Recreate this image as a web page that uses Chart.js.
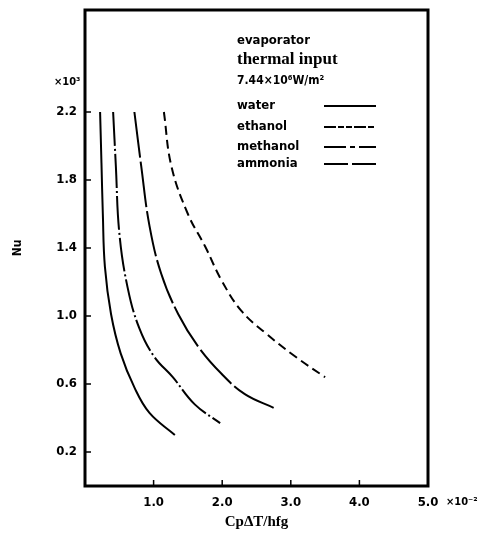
<!DOCTYPE html>
<html>
<head>
<meta charset="utf-8">
<script src="https://cdn.jsdelivr.net/npm/chart.js@4.4.1/dist/chart.umd.min.js"></script>
<style>
  html, body { margin: 0; padding: 0; background: #fff; }
  canvas { display: block; }
</style>
</head>
<body>
<canvas id="nuChart" width="480" height="543"></canvas>
<script>
// Cp dT / hfg (x10^-2) vs Nu (x10^3)
const waterX = [0.22, 0.24, 0.26, 0.29, 0.38, 0.52, 0.72, 0.94, 1.31];
const waterY = [2.20, 1.90, 1.60, 1.29, 1.01, 0.78, 0.58, 0.43, 0.30];

const ethanolX = [1.15, 1.26, 1.50, 1.75, 1.99, 2.28, 2.63, 3.07, 3.50];
const ethanolY = [2.20, 1.88, 1.60, 1.41, 1.21, 1.03, 0.90, 0.76, 0.64];

const methanolX = [0.41, 0.45, 0.50, 0.62, 0.79, 1.01, 1.28, 1.60, 1.97];
const methanolY = [2.20, 1.88, 1.49, 1.17, 0.93, 0.76, 0.64, 0.48, 0.37];

const ammoniaX = [0.72, 0.82, 0.94, 1.11, 1.36, 1.65, 1.99, 2.33, 2.75];
const ammoniaY = [2.20, 1.88, 1.53, 1.25, 1.01, 0.82, 0.66, 0.54, 0.46];

const xTicks = [1, 2, 3, 4, 5];
const yTicks = [0.2, 0.6, 1.0, 1.4, 1.8, 2.2];

const seriesNames = ['water', 'ethanol', 'methanol', 'ammonia'];
const seriesDash = [[], [9, 5], [34, 3, 2, 3], [46, 4]];
const keyDash = [[], [12, 2, 6, 2, 6, 2], [22, 4, 5, 4], [24, 4]];

function toPoints(xs, ys) {
  return xs.map((v, i) => ({ x: v, y: ys[i] }));
}

const seriesData = [
  toPoints(waterX, waterY),
  toPoints(ethanolX, ethanolY),
  toPoints(methanolX, methanolY),
  toPoints(ammoniaX, ammoniaY)
];

const sansFont = '"DejaVu Sans Condensed", "DejaVu Sans", sans-serif';
const serifFont = '"Liberation Serif", "DejaVu Serif", serif';

// frame, inward ticks, multipliers and the key block
const framePlugin = {
  id: 'frame',
  afterDatasetsDraw(chart) {
    const { ctx, chartArea: a, scales: { x, y } } = chart;
    ctx.save();
    ctx.strokeStyle = '#000';
    ctx.fillStyle = '#000';
    ctx.setLineDash([]);

    ctx.lineWidth = 3;
    ctx.strokeRect(a.left, a.top, a.right - a.left, a.bottom - a.top);

    ctx.lineWidth = 1.5;
    ctx.beginPath();
    yTicks.forEach(v => {
      const py = y.getPixelForValue(v);
      ctx.moveTo(a.left, py);
      ctx.lineTo(a.left + 6, py);
    });
    xTicks.slice(0, -1).forEach(v => {
      const px = x.getPixelForValue(v);
      ctx.moveTo(px, a.bottom);
      ctx.lineTo(px, a.bottom - 6);
    });
    ctx.stroke();

    ctx.textBaseline = 'middle';
    ctx.textAlign = 'left';
    ctx.font = 'bold 11px ' + sansFont;
    ctx.fillText('×10³', 54, 82);
    ctx.fillText('×10⁻²', 446, 502);

    // key
    const kx = 237;
    ctx.font = 'bold 13px ' + sansFont;
    ctx.fillText('evaporator', kx, 41);
    ctx.font = 'bold 17px ' + serifFont;
    ctx.fillText('thermal input', kx, 60);
    ctx.font = 'bold 12px ' + sansFont;
    ctx.fillText('7.44×10⁶W/m²', kx, 81);

    const rows = [106, 127, 147, 164];
    ctx.lineWidth = 1.8;
    seriesNames.forEach((name, i) => {
      ctx.font = 'bold 13px ' + sansFont;
      ctx.setLineDash([]);
      ctx.fillText(name, kx, rows[i]);
      ctx.setLineDash(keyDash[i]);
      ctx.beginPath();
      ctx.moveTo(324, rows[i]);
      ctx.lineTo(376, rows[i]);
      ctx.stroke();
    });
    ctx.restore();
  }
};

new Chart(document.getElementById('nuChart'), {
  type: 'scatter',
  data: {
    datasets: seriesNames.map((name, i) => ({
      label: name,
      data: seriesData[i],
      showLine: true,
      borderColor: '#000',
      borderWidth: 2,
      borderDash: seriesDash[i],
      pointRadius: 0,
      tension: 0.4,
      fill: false
    }))
  },
  options: {
    responsive: false,
    animation: false,
    layout: { padding: { top: 10, right: 52, bottom: 0, left: 0 } },
    plugins: {
      legend: { display: false },
      tooltip: { enabled: false }
    },
    scales: {
      x: {
        type: 'linear',
        min: 0,
        max: 5,
        afterBuildTicks: s => { s.ticks = xTicks.map(v => ({ value: v })); },
        afterFit: s => { s.height = 57; s.paddingLeft = 0; s.paddingRight = 0; },
        grid: { display: false, drawTicks: false },
        border: { display: false },
        ticks: {
          padding: 9,
          color: '#000',
          font: { family: sansFont, size: 13, weight: 'bold' },
          callback: v => v.toFixed(1)
        },
        title: {
          display: true,
          text: 'CpΔT/hfg',
          color: '#000',
          padding: { top: 0, bottom: 12 },
          font: { family: serifFont, size: 15, weight: 'bold' }
        }
      },
      y: {
        type: 'linear',
        min: 0,
        max: 2.8,
        afterBuildTicks: s => { s.ticks = yTicks.map(v => ({ value: v })); },
        afterFit: s => { s.width = 85; s.paddingTop = 0; s.paddingBottom = 0; },
        grid: { display: false, drawTicks: false },
        border: { display: false },
        ticks: {
          padding: 8,
          color: '#000',
          font: { family: sansFont, size: 13, weight: 'bold' },
          callback: v => v.toFixed(1)
        },
        title: {
          display: true,
          text: 'Nu',
          color: '#000',
          padding: { top: 11, bottom: 0 },
          font: { family: sansFont, size: 12, weight: 'bold' }
        }
      }
    }
  },
  plugins: [framePlugin]
});
</script>
</body>
</html>
